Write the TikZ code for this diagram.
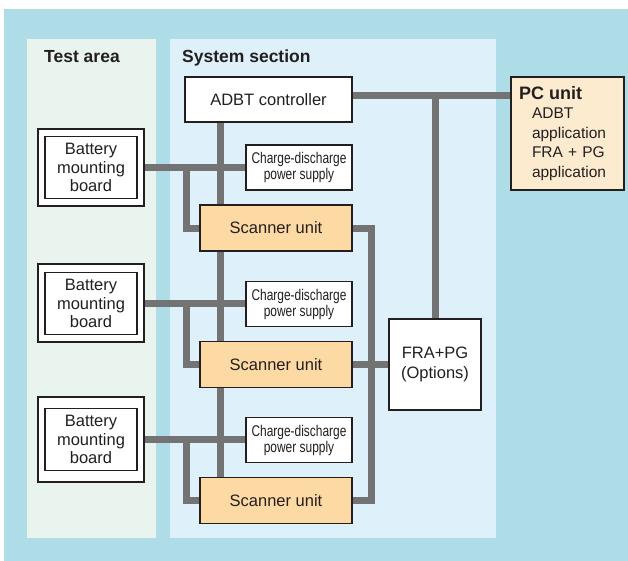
\documentclass[tikz,border=0pt]{standalone}
\usepackage{fontspec}
\setmainfont{Liberation Sans}
\newfontfamily\condensedfont[FakeStretch=0.77]{Liberation Sans}

\definecolor{outerblue}{HTML}{AEDCE7}
\definecolor{testgreen}{HTML}{EAF4EE}
\definecolor{sysblue}{HTML}{DEF0FA}
\definecolor{scanorange}{HTML}{FDD9A3}
\definecolor{pcbeige}{HTML}{FDEBD0}
\definecolor{busgray}{HTML}{737373}
\definecolor{inkdark}{HTML}{231F20}

\tikzset{
  unit/.style={draw=inkdark, line width=1.1pt, fill=white, inner sep=0pt, align=center,
    text=inkdark, font=\fontsize{16.5}{19.5}\selectfont},
  scanner/.style={unit, fill=scanorange, minimum width=152pt, minimum height=46pt},
  supply/.style={unit, minimum width=106pt, minimum height=45pt,
    font=\condensedfont\fontsize{15.5}{16}\selectfont},
  board/.style={unit, minimum width=92pt, minimum height=62pt, font=\fontsize{16.5}{18.5}\selectfont},
  boardframe/.style={draw=inkdark, line width=1.1pt, fill=white, minimum width=106pt},
  bus/.style={draw=busgray, line width=7pt},
  paneltitle/.style={font=\bfseries\fontsize{17.5}{20}\selectfont, text=inkdark, anchor=base west, inner sep=0pt},
}

\begin{document}
\begin{tikzpicture}[x=1pt,y=-1pt]% [ show background grid ]
\useasboundingbox (0,0) rectangle (628,561);
\fill[outerblue] (4,9) rectangle (628,561);
\fill[testgreen] (27,39) rectangle (156,538);
\fill[sysblue] (170,39) rectangle (496,538);

\node[paneltitle] (testtitle) at (44,63) {Test area};
\node[paneltitle] (systitle) at (182,63) {System section};

\node[unit, minimum width=167pt, minimum height=45pt] (ctrl) at (268.5,99.5) {ADBT controller};

\node[unit, fill=pcbeige, minimum width=113pt, minimum height=113pt, text width=97pt, align=left,
  font=\fontsize{15.5}{19.5}\selectfont] (pc) at (567.5,133.5)
  {{\bfseries\fontsize{18}{19.5}\selectfont PC unit}\\
   \hspace*{13pt}ADBT\\ \hspace*{13pt}application\\
   \hspace*{13pt}FRA + PG\\ \hspace*{13pt}application};

\node[unit, minimum width=92pt, minimum height=91pt] (fra) at (435,364.5) {FRA+PG\\(Options)};

\node[boardframe, minimum height=77pt] (frame1) at (91,167.5) {};
\node[board] (bat1) at (frame1) {Battery\\mounting\\board};
\node[boardframe, minimum height=78pt] (frame2) at (91,303) {};
\node[board] (bat2) at (91,303.5) {Battery\\mounting\\board};
\node[boardframe, minimum height=85pt] (frame3) at (91,439.5) {};
\node[board] (bat3) at (frame3) {Battery\\mounting\\board};

\node[supply] (cd1) at (299,167.5) {Charge-discharge\\power supply};
\node[supply] (cd2) at (299,304) {Charge-discharge\\power supply};
\node[supply] (cd3) at (299,440) {Charge-discharge\\power supply};

\node[scanner] (scn1) at (276,228) {Scanner unit};
\node[scanner] (scn2) at (276,364.5) {Scanner unit};
\node[scanner] (scn3) at (276,500.5) {Scanner unit};

\coordinate (trunk) at (220,0);
\coordinate (tap) at (186,0);
\coordinate (rail) at (371,0);
\coordinate (hub) at ([yshift=3.5pt]ctrl.east);

% buses
\draw[bus] (hub) -- (hub -| pc.west);
\draw[bus] (fra.north) -- (fra.north |- hub);
\draw[bus] (ctrl.south -| trunk) -- (scn1.north -| trunk);
\draw[bus] (scn1.south -| trunk) -- (scn2.north -| trunk);
\draw[bus] (scn2.south -| trunk) -- (scn3.north -| trunk);

\draw[bus] (frame1.east) -- (frame1.east -| cd1.west);
\draw[bus] (frame1.east -| tap) |- (scn1.west);
\draw[bus] (frame2.east) -- (frame2.east -| cd2.west);
\draw[bus] (frame2.east -| tap) |- (scn2.west);
\draw[bus] (frame3.east) -- (frame3.east -| cd3.west);
\draw[bus] (frame3.east -| tap) |- (scn3.west);

\draw[bus] (scn1.east) -| (rail |- scn3.east) -- (scn3.east);
\draw[bus] (scn2.east) -- (fra.west);

\end{tikzpicture}
\end{document}
